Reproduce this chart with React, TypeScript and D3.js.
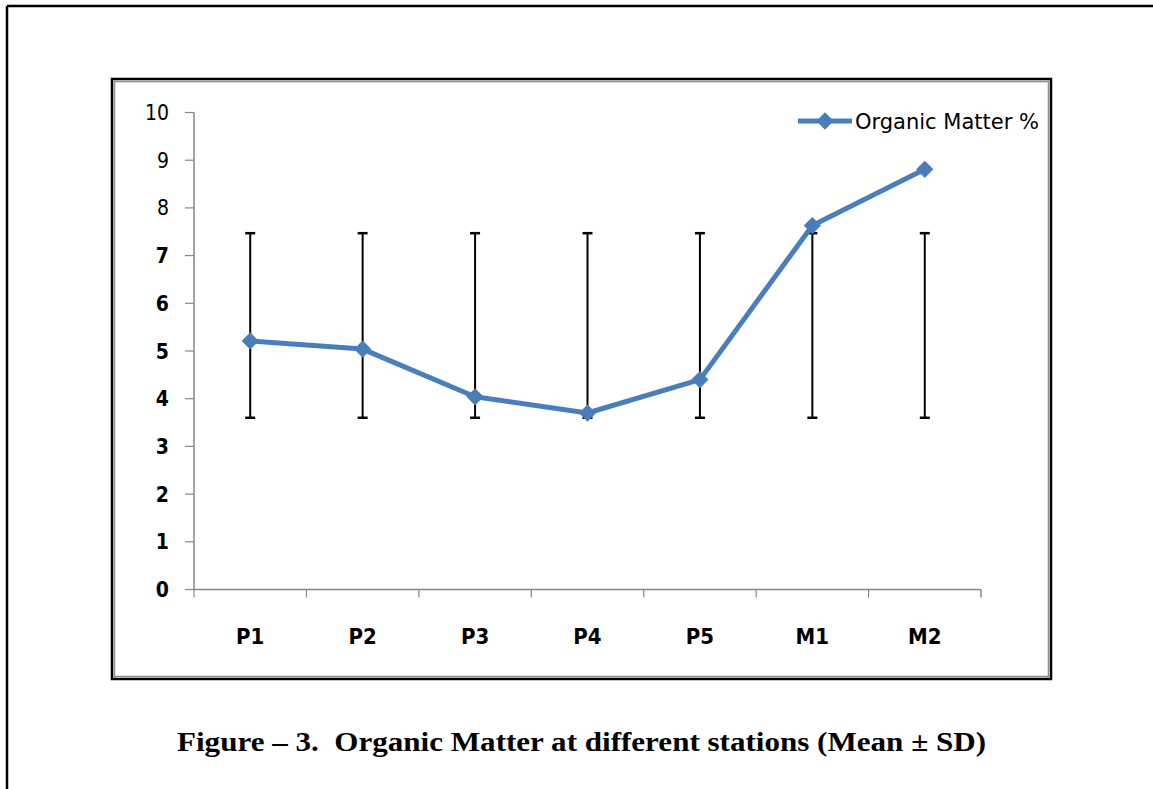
import React from "react";
import * as d3 from "d3";

const categories = ["P1", "P2", "P3", "P4", "P5", "M1", "M2"];
const organicMatter = [5.21, 5.04, 4.04, 3.7, 4.4, 7.63, 8.81];
const errLow = [3.6, 3.6, 3.6, 3.6, 3.6, 3.6, 3.6];
const errHigh = [7.47, 7.47, 7.47, 7.47, 7.47, 7.47, 7.47];
const yTicks = [0, 1, 2, 3, 4, 5, 6, 7, 8, 9, 10];
const seriesName = "Organic Matter %";
const caption = "Figure \u2013 3.  Organic Matter at different stations (Mean \u00b1 SD)";

const W = 1153;
const H = 789;
const BLUE = "#4A7EBB";
const FONT = "'DejaVu Sans Condensed', 'Liberation Sans Narrow', 'Open Sans', sans-serif";

export default function App() {
  const x = d3.scaleBand<string>().domain(categories).range([194, 981]);
  const y = d3.scaleLinear().domain([0, 10]).range([589.5, 112.5]);
  const cx = (c: string) => (x(c) as number) + x.bandwidth() / 2;
  const line = d3
    .line<number>()
    .x((_, i) => cx(categories[i]))
    .y((d) => y(d));
  const diamond = d3.symbol().type(d3.symbolDiamond2).size(190)() as string;

  return (
    <svg
      width={W}
      height={H}
      style={{ position: "absolute", left: 0, top: 0, background: "#fff" }}
    >
      <rect x={0} y={0} width={W} height={H} fill="#fff" />
      {/* outer page border */}
      <line x1={7} y1={6} x2={W} y2={6} stroke="#000" strokeWidth={2.5} />
      <line x1={7} y1={6} x2={7} y2={H} stroke="#000" strokeWidth={2.5} />
      {/* chart frame */}
      <rect x={112} y={79} width={939} height={600} fill="#fff" stroke="#000" strokeWidth={2.5} />
      <rect x={114.5} y={81.5} width={934} height={595} fill="none" stroke="#8c8c8c" strokeWidth={1.5} />

      {/* y axis */}
      <line x1={194} x2={194} y1={y(10)} y2={y(0)} stroke="#868686" strokeWidth={1.5} />
      {yTicks.map((t) => (
        <g key={t}>
          <line x1={185} x2={194} y1={y(t)} y2={y(t)} stroke="#868686" strokeWidth={1.2} />
          <text
            x={169}
            y={y(t)}
            dy="0.36em"
            textAnchor="end"
            fontFamily={FONT}
            fontSize={21}
            fontWeight={t <= 7 ? "bold" : "normal"}
            fill="#000"
          >
            {t}
          </text>
        </g>
      ))}

      {/* x axis */}
      <line x1={194} x2={981} y1={y(0)} y2={y(0)} stroke="#868686" strokeWidth={1.5} />
      {categories.map((c) => (
        <line
          key={"t" + c}
          x1={x(c) as number}
          x2={x(c) as number}
          y1={y(0)}
          y2={y(0) + 8}
          stroke="#868686"
          strokeWidth={1.2}
        />
      ))}
      <line x1={981} x2={981} y1={y(0)} y2={y(0) + 8} stroke="#868686" strokeWidth={1.5} />
      {categories.map((c) => (
        <text
          key={"l" + c}
          x={cx(c)}
          y={644}
          textAnchor="middle"
          fontFamily={FONT}
          fontSize={22}
          fontWeight="bold"
          fill="#000"
        >
          {c}
        </text>
      ))}

      {/* error bars */}
      {categories.map((c, i) => (
        <g key={"e" + c} stroke="#000" strokeWidth={2}>
          <line x1={cx(c)} x2={cx(c)} y1={y(errHigh[i])} y2={y(errLow[i])} />
          <line x1={cx(c) - 5} x2={cx(c) + 5} y1={y(errHigh[i])} y2={y(errHigh[i])} strokeWidth={2.5} />
          <line x1={cx(c) - 5} x2={cx(c) + 5} y1={y(errLow[i])} y2={y(errLow[i])} strokeWidth={2.5} />
        </g>
      ))}

      {/* series */}
      <path d={line(organicMatter) as string} fill="none" stroke={BLUE} strokeWidth={5} strokeLinejoin="round" />
      {organicMatter.map((v, i) => (
        <path key={"m" + i} d={diamond} transform={`translate(${cx(categories[i])},${y(v)})`} fill={BLUE} />
      ))}

      {/* legend */}
      <line x1={798} x2={852} y1={121} y2={121} stroke={BLUE} strokeWidth={5} />
      <path d={diamond} transform="translate(825,121)" fill={BLUE} />
      <text
        x={855}
        y={121}
        dy="0.36em"
        fontFamily={FONT}
        fontSize={22}
        textLength={184}
        lengthAdjust="spacingAndGlyphs"
        fill="#000"
      >
        {seriesName}
      </text>

      {/* caption */}
      <text
        x={177}
        y={751}
        fontFamily="'Liberation Serif', 'Times New Roman', serif"
        fontSize={28}
        fontWeight="bold"
        textLength={809}
        lengthAdjust="spacingAndGlyphs"
        style={{ whiteSpace: "pre" }}
        fill="#000"
      >
        {caption}
      </text>
    </svg>
  );
}
